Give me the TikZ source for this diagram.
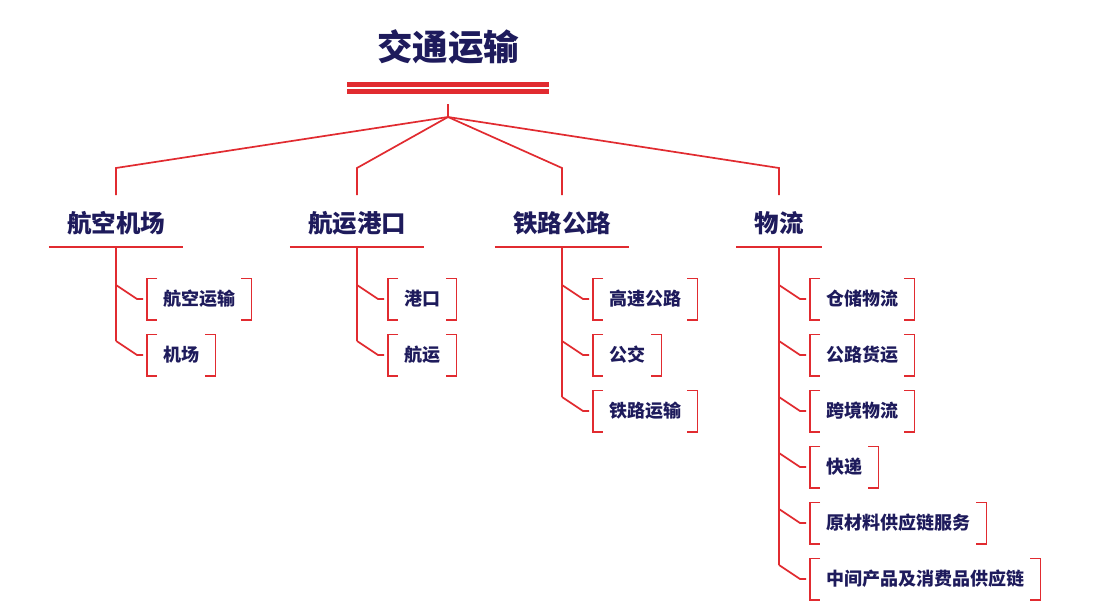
\documentclass[tikz,border=0pt]{standalone}
\usepackage{fontspec}
\newfontfamily\cjk{Noto Sans CJK SC}
\definecolor{navy}{HTML}{1E1B5C}
\definecolor{brred}{HTML}{E12B30}
\begin{document}
\begin{tikzpicture}[x=1pt,y=-1pt,
  rl/.style={draw=brred, line width=1.7pt},
  leaf/.style={font={\cjk\bfseries\fontsize{18}{20}\selectfont}, text=navy, inner xsep=16pt, inner ysep=0pt, minimum height=41pt, anchor=west},
  grp/.style={font={\cjk\bfseries\fontsize{24.5}{28}\selectfont}, text=navy, inner xsep=18pt, inner ysep=0pt, minimum height=48pt},
  ttl/.style={font={\cjk\bfseries\fontsize{35.5}{40}\selectfont}, text=navy, inner sep=0pt},
  brk/.style={draw=brred, line width=1.6pt}
]
\useasboundingbox (0,0) rectangle (1096,608);
\fill[white] (0,0) rectangle (1096,608);
% title
\node[ttl] (title) at (448,47) {交通运输};
\draw[draw=brred, line width=4.5pt] (347,84.5) -- (549,84.5);
\draw[draw=brred, line width=4.5pt] (347,91.5) -- (549,91.5);
\coordinate (tick) at (448,104);
\coordinate (hub) at (448,117);
\draw[rl] (tick) -- (hub);
% groups
\node[grp] (g1) at (116,223) {航空机场};
\node[grp] (g2) at (357,223) {航运港口};
\node[grp] (g3) at (562,223) {铁路公路};
\node[grp] (g4) at (779,223) {物流};
\foreach \g/\x in {1/116,2/357,3/562,4/779}{
  \coordinate (k\g) at (\x,168);
  \coordinate (t\g) at (\x,195);
  \draw[rl] (hub) -- (k\g) -- (t\g);
  \draw[draw=brred, line width=2.4pt] (g\g.south west) -- (g\g.south east);
}
% stems
\coordinate (s1) at (116,341);
\coordinate (s2) at (357,341);
\coordinate (s3) at (562,397);
\coordinate (s4) at (779,565);
\foreach \g in {1,2,3}{\draw[rl] (g\g.south) -- (s\g);}
\draw[draw=brred, line width=2.2pt] (g4.south) -- (s4);
% leaves
\foreach \g/\x/\items in {1/116/{航空运输,机场},2/357/{港口,航运},3/562/{高速公路,公交,铁路运输},4/779/{仓储物流,公路货运,跨境物流,快递,原材料供应链服务,中间产品及消费品供应链}}{
  \foreach \t [count=\i] in \items {
    \pgfmathsetmacro\yc{299+56*(\i-1)}
    \node[leaf] (g\g c\i) at (\x+31,\yc) {\raisebox{-1.5pt}{\t}};
    \draw[brk] ([xshift=10pt]g\g c\i.north west) -- (g\g c\i.north west) -- (g\g c\i.south west) -- ([xshift=10pt]g\g c\i.south west);
    \draw[brk] ([xshift=-10pt]g\g c\i.north east) -- (g\g c\i.north east) -- (g\g c\i.south east) -- ([xshift=-10pt]g\g c\i.south east);
    \coordinate (b\g\i) at (\x,\yc-14);
    \draw[rl] (b\g\i) -- ++(21,14) -- ([xshift=-4pt]g\g c\i.west);
  }
}
\end{tikzpicture}
\end{document}
